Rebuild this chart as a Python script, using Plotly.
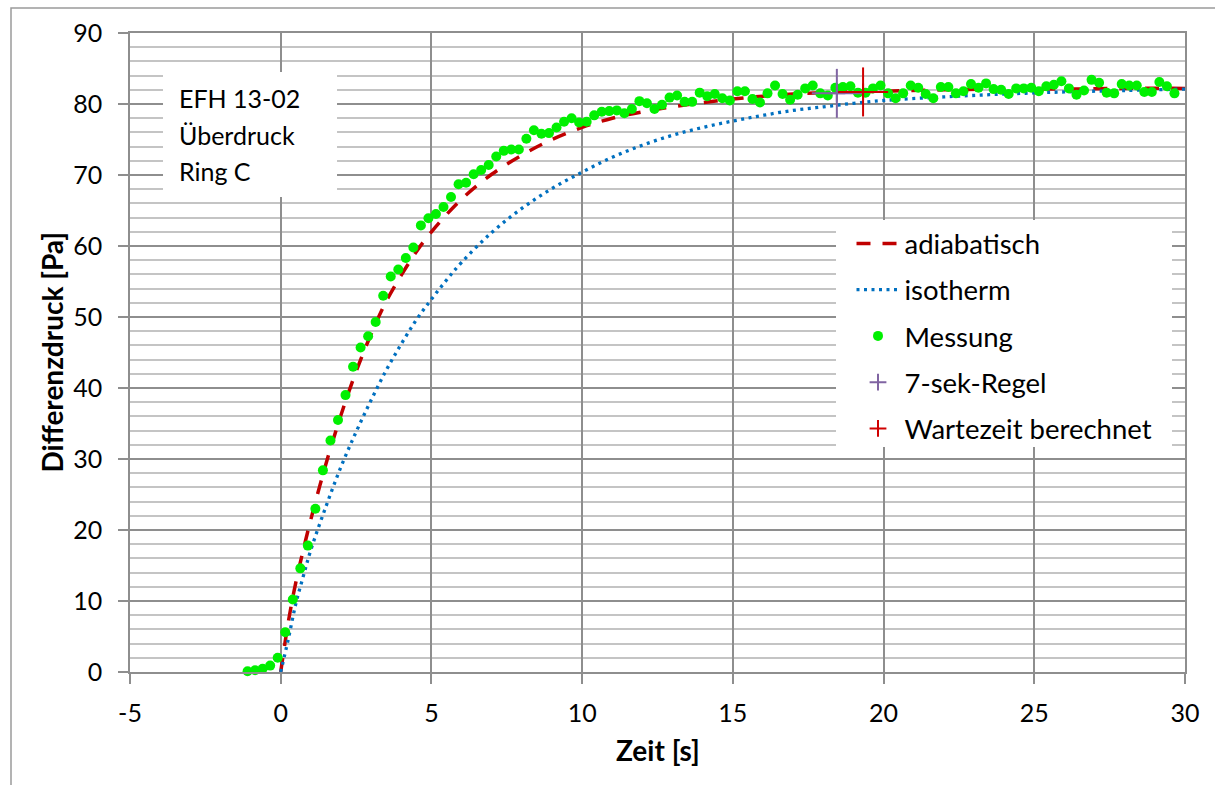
import plotly.graph_objects as go

# Messung: Zeit [s] und Differenzdruck [Pa] (Abtastung 4 Hz)
zeit_messung = [
    -1.10, -0.85, -0.60, -0.35, -0.10, 0.15, 0.40, 0.65, 0.90, 1.15,
    1.40, 1.65, 1.90, 2.15, 2.40, 2.65, 2.90, 3.15, 3.40, 3.65,
    3.90, 4.15, 4.40, 4.65, 4.90, 5.15, 5.40, 5.65, 5.90, 6.15,
    6.40, 6.65, 6.90, 7.15, 7.40, 7.65, 7.90, 8.15, 8.40, 8.65,
    8.90, 9.15, 9.40, 9.65, 9.90, 10.15, 10.40, 10.65, 10.90, 11.15,
    11.40, 11.65, 11.90, 12.15, 12.40, 12.65, 12.90, 13.15, 13.40, 13.65,
    13.90, 14.15, 14.40, 14.65, 14.90, 15.15, 15.40, 15.65, 15.90, 16.15,
    16.40, 16.65, 16.90, 17.15, 17.40, 17.65, 17.90, 18.15, 18.40, 18.65,
    18.90, 19.15, 19.40, 19.65, 19.90, 20.15, 20.40, 20.65, 20.90, 21.15,
    21.40, 21.65, 21.90, 22.15, 22.40, 22.65, 22.90, 23.15, 23.40, 23.65,
    23.90, 24.15, 24.40, 24.65, 24.90, 25.15, 25.40, 25.65, 25.90, 26.15,
    26.40, 26.65, 26.90, 27.15, 27.40, 27.65, 27.90, 28.15, 28.40, 28.65,
    28.90, 29.15, 29.40, 29.65,
]
druck_messung = [
    0.1, 0.25, 0.45, 0.9, 2.0, 5.6, 10.2, 14.6, 17.8, 23.0,
    28.4, 32.6, 35.5, 39.0, 43.0, 45.7, 47.3, 49.3, 53.0, 55.7,
    56.7, 58.3, 59.8, 62.9, 63.9, 64.5, 65.5, 66.9, 68.7, 68.9,
    70.1, 70.7, 71.4, 72.6, 73.4, 73.6, 73.6, 75.1, 76.3, 75.8,
    75.9, 76.7, 77.5, 78.0, 77.4, 77.5, 78.4, 78.9, 79.0, 79.1,
    78.7, 79.3, 80.4, 80.1, 79.3, 79.9, 80.9, 81.2, 80.3, 80.3,
    81.6, 81.1, 81.4, 80.8, 80.5, 81.8, 81.8, 80.7, 80.2, 81.5,
    82.6, 81.4, 80.6, 81.3, 82.2, 82.6, 81.5, 81.2, 82.3, 82.4,
    82.5, 81.6, 81.6, 82.2, 82.6, 81.5, 80.8, 81.5, 82.6, 82.3,
    81.4, 80.8, 82.4, 82.4, 81.5, 81.8, 82.8, 82.3, 82.9, 82.1,
    82.0, 81.4, 82.2, 82.2, 82.3, 81.8, 82.5, 82.7, 83.2, 82.2,
    81.3, 81.9, 83.4, 83.0, 81.6, 81.5, 82.8, 82.6, 82.6, 81.7,
    81.7, 83.1, 82.5, 81.5,
]

# Modellkurve adiabatisch
zeit_adiabatisch = [
    0, 0.25, 0.5, 0.75, 1.0, 1.5, 2.0, 2.5, 3.0, 3.5, 4.0, 4.5, 5.0,
    6.0, 7.0, 8.0, 9.0, 10.0, 11.0, 12.0, 13.0, 14.0, 15.0, 16.0, 17.0, 18.0,
    20.0, 22.0, 24.0, 26.0, 28.0, 30.0,
]
druck_adiabatisch = [
    0, 7.0, 12.6, 17.2, 21.5, 29.3, 36.2, 42.3, 47.6, 52.2, 55.9, 59.2, 62.0,
    66.6, 70.1, 72.8, 75.0, 76.7, 78.0, 78.9, 79.6, 80.2, 80.7, 81.1, 81.4, 81.6,
    81.8, 82.0, 82.1, 82.1, 82.2, 82.2,
]

# Modellkurve isotherm
zeit_isotherm = [
    0, 0.25, 0.5, 0.75, 1.0, 1.5, 2.0, 2.5, 3.0, 3.5, 4.0, 4.5, 5.0, 5.5, 6.0,
    7.0, 8.0, 9.0, 10.0, 11.0, 12.0, 13.0, 14.0, 15.0, 16.0, 17.0, 18.0, 19.0, 20.0,
    22.0, 24.0, 26.0, 28.0, 30.0,
]
druck_isotherm = [
    0, 4.6, 9.6, 13.5, 17.2, 23.3, 28.9, 33.8, 38.3, 42.5, 46.2, 49.6, 52.5, 55.2, 57.7,
    61.9, 65.3, 68.1, 70.4, 72.5, 74.2, 75.6, 76.7, 77.6, 78.4, 79.1, 79.6, 80.1, 80.5,
    81.0, 81.4, 81.7, 81.9, 82.1,
]

# Wartezeit-Punkte
zeit_7sek = [18.45]
druck_7sek = [81.5]
zeit_wartezeit = [19.32]
druck_wartezeit = [81.7]

# Achsenbeschriftung
x_ticks = [-5, 0, 5, 10, 15, 20, 25, 30]
x_ticktext = ["-5", "0", "5", "10", "15", "20", "25", "30"]
y_ticks = [0, 10, 20, 30, 40, 50, 60, 70, 80, 90]

infotext = ["EFH 13-02", "Überdruck", "Ring C"]

FONT = "Lato, Carlito, Calibri, sans-serif"
GRID_MAJOR = "#8e8e8e"
GRID_MINOR = "#c4c4c4"

# plot area in pixels: x 130..1185, y 33..672
L, R, T, B = 130, 1185, 33, 672


def px_x(p):
    return (p - L) / (R - L)


def px_y(p):
    return (B - p) / (B - T)


fig = go.Figure()

fig.add_trace(go.Scatter(
    x=zeit_adiabatisch, y=druck_adiabatisch, mode="lines", name="adiabatisch",
    legendgroup="g1", line=dict(color="#C00000", width=3.5, dash="14px,12px", shape="spline"),
))
fig.add_trace(go.Scatter(
    x=zeit_isotherm, y=druck_isotherm, mode="lines", name="isotherm",
    legendgroup="g2", line=dict(color="#0070C0", width=3.3, dash="3px,4.5px", shape="spline"),
))
fig.add_trace(go.Scatter(
    x=zeit_messung, y=druck_messung, mode="markers", name="Messung",
    legendgroup="g3", cliponaxis=False,
    marker=dict(color="#00F000", size=10, line=dict(width=0)),
))
fig.add_trace(go.Scatter(
    x=zeit_7sek, y=druck_7sek, mode="markers", name="7-sek-Regel",
    legendgroup="g4", cliponaxis=False,
    marker=dict(symbol="cross-thin", size=12, line=dict(color="#8064A2", width=2)),
    error_x=dict(type="constant", value=0.83, color="#8064A2", thickness=2, width=0),
    error_y=dict(type="constant", value=3.45, color="#8064A2", thickness=2, width=0),
))
fig.add_trace(go.Scatter(
    x=zeit_wartezeit, y=druck_wartezeit, mode="markers", name="Wartezeit berechnet",
    legendgroup="g5", cliponaxis=False,
    marker=dict(symbol="cross-thin", size=12, line=dict(color="#D00000", width=2)),
    error_x=dict(type="constant", value=0.83, color="#D00000", thickness=2, width=0),
    error_y=dict(type="constant", value=3.45, color="#D00000", thickness=2, width=0),
))

# Outer chart frame
fig.add_shape(type="rect", xref="paper", yref="paper",
              x0=px_x(11), x1=px_x(1225), y0=px_y(800), y1=px_y(8),
              line=dict(color="#9a9a9a", width=1.5), fillcolor="rgba(0,0,0,0)", layer="below")
# White boxes behind the info text and the legend
fig.add_shape(type="rect", xref="x", yref="y", x0=-3.905, x1=1.868, y0=66.9, y1=84.5,
              line=dict(width=0), fillcolor="white", layer="above")
fig.add_shape(type="rect", xref="paper", yref="paper",
              x0=px_x(836), x1=px_x(1172), y0=px_y(447), y1=px_y(220),
              line=dict(width=0), fillcolor="white", layer="above")

for text, ypos in zip(infotext, [80.8, 75.7, 70.6]):
    fig.add_annotation(x=-3.44, y=ypos, xref="x", yref="y", text=text, showarrow=False,
                       xanchor="left", yanchor="middle", font=dict(family=FONT, size=25, color="black"))

# Axis titles
fig.add_annotation(x=0.5, y=px_y(750), xref="paper", yref="paper", text="<b>Zeit [s]</b>",
                   showarrow=False, xanchor="center", yanchor="middle",
                   font=dict(family=FONT, size=28, color="black"))
fig.add_annotation(x=px_x(51), y=0.5, xref="paper", yref="paper", text="<b>Differenzdruck [Pa]</b>",
                   showarrow=False, xanchor="center", yanchor="middle", textangle=-90,
                   font=dict(family=FONT, size=28, color="black"))

fig.update_layout(
    width=1215, height=785,
    margin=dict(l=L, r=1215 - R, t=T, b=785 - B, pad=0),
    paper_bgcolor="white", plot_bgcolor="white",
    font=dict(family=FONT, size=25, color="black"),
    showlegend=True,
    legend=dict(
        x=px_x(851.5), y=px_y(219), xanchor="left", yanchor="top",
        bgcolor="rgba(255,255,255,0)", borderwidth=0, font=dict(family=FONT, size=27.5, color="black"),
        tracegroupgap=7.5, itemwidth=43, traceorder="grouped",
    ),
)

fig.update_xaxes(
    range=[-5, 30], tickmode="array", tickvals=x_ticks, ticktext=x_ticktext,
    showgrid=True, gridcolor=GRID_MAJOR, gridwidth=1.6, zeroline=False,
    showline=True, linecolor=GRID_MAJOR, linewidth=1.6, mirror=True,
    ticks="outside", ticklen=10, tickcolor=GRID_MAJOR, tickwidth=1.6,
    tickfont=dict(family=FONT, size=25, color="black"), ticklabelstandoff=8,
)
fig.update_yaxes(
    range=[0, 90], tickmode="array", tickvals=y_ticks,
    showgrid=True, gridcolor=GRID_MAJOR, gridwidth=1.6, zeroline=False,
    showline=True, linecolor=GRID_MAJOR, linewidth=1.6, mirror=True,
    ticks="outside", ticklen=10, tickcolor=GRID_MAJOR, tickwidth=1.6,
    minor=dict(dtick=2, tick0=0, showgrid=True, gridcolor=GRID_MINOR, gridwidth=1.6, ticks=""),
    tickfont=dict(family=FONT, size=25, color="black"), ticklabelstandoff=11,
)

fig.write_html("out.html")
